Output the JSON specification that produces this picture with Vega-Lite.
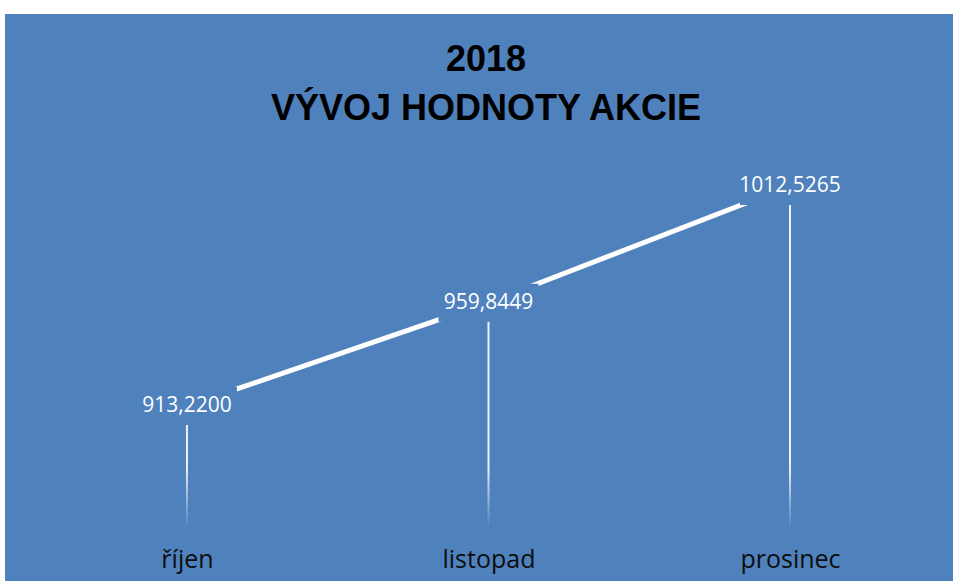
{
  "$schema": "https://vega.github.io/schema/vega-lite/v6.json",
  "width": 948,
  "height": 567,
  "autosize": {"type": "none"},
  "padding": {"left": 5, "top": 14, "right": 0, "bottom": 0},
  "background": "white",
  "view": {"fill": "#4F81BD", "stroke": null},
  "title": {
    "text": ["2018", "VÝVOJ HODNOTY AKCIE"],
    "font": "Liberation Sans",
    "fontSize": 36,
    "fontWeight": "bold",
    "color": "#000000",
    "lineHeight": 49,
    "anchor": "middle",
    "baseline": "top",
    "offset": -114,
    "dx": 7
  },
  "data": {
    "values": [
      {"mesic": "říjen", "hodnota": 913.22},
      {"mesic": "listopad", "hodnota": 959.8449},
      {"mesic": "prosinec", "hodnota": 1012.5265}
    ]
  },
  "encoding": {
    "x": {
      "field": "mesic",
      "type": "nominal",
      "sort": null,
      "scale": {"type": "point", "padding": 0.572, "align": 0.5275},
      "axis": {
        "title": null,
        "domain": false,
        "ticks": false,
        "grid": false,
        "labelAngle": 0,
        "labelFont": "Open Sans",
        "labelFontSize": 25,
        "labelColor": "#0d0d0d",
        "labelPadding": 0,
        "labelBaseline": "alphabetic",
        "offset": -14
      }
    },
    "y": {
      "field": "hodnota",
      "type": "quantitative",
      "scale": {"domain": [834.2, 1090.2], "zero": false, "nice": false},
      "axis": null
    }
  },
  "layer": [
    {
      "mark": {"type": "line", "color": "white", "strokeWidth": 5}
    },
    {
      "mark": {"type": "rule", "color": "white", "strokeWidth": 2, "opacity": 0.9},
      "encoding": {
        "y2": {"datum": 887}
      }
    },
    {
      "mark": {
        "type": "bar",
        "width": 2,
        "fill": {
          "gradient": "linear",
          "x1": 0, "y1": 0, "x2": 0, "y2": 1,
          "stops": [
            {"offset": 0, "color": "#f4f7fb"},
            {"offset": 1, "color": "#4F81BD"}
          ]
        }
      },
      "encoding": {
        "y": {"datum": 887},
        "y2": {"datum": 858}
      }
    },
    {
      "mark": {
        "type": "point",
        "shape": "M-1,-0.38H1V0.38H-1Z",
        "size": 10000,
        "filled": true,
        "fill": "#4F81BD",
        "opacity": 1,
        "strokeWidth": 0
      }
    },
    {
      "mark": {
        "type": "text",
        "font": "Open Sans",
        "fontSize": 21,
        "color": "white",
        "baseline": "middle"
      },
      "encoding": {
        "text": {"field": "hodnota", "type": "quantitative", "format": ".4f"}
      }
    }
  ],
  "config": {
    "locale": {
      "number": {"decimal": ",", "thousands": "", "grouping": [3], "currency": ["", " Kč"]}
    }
  }
}
